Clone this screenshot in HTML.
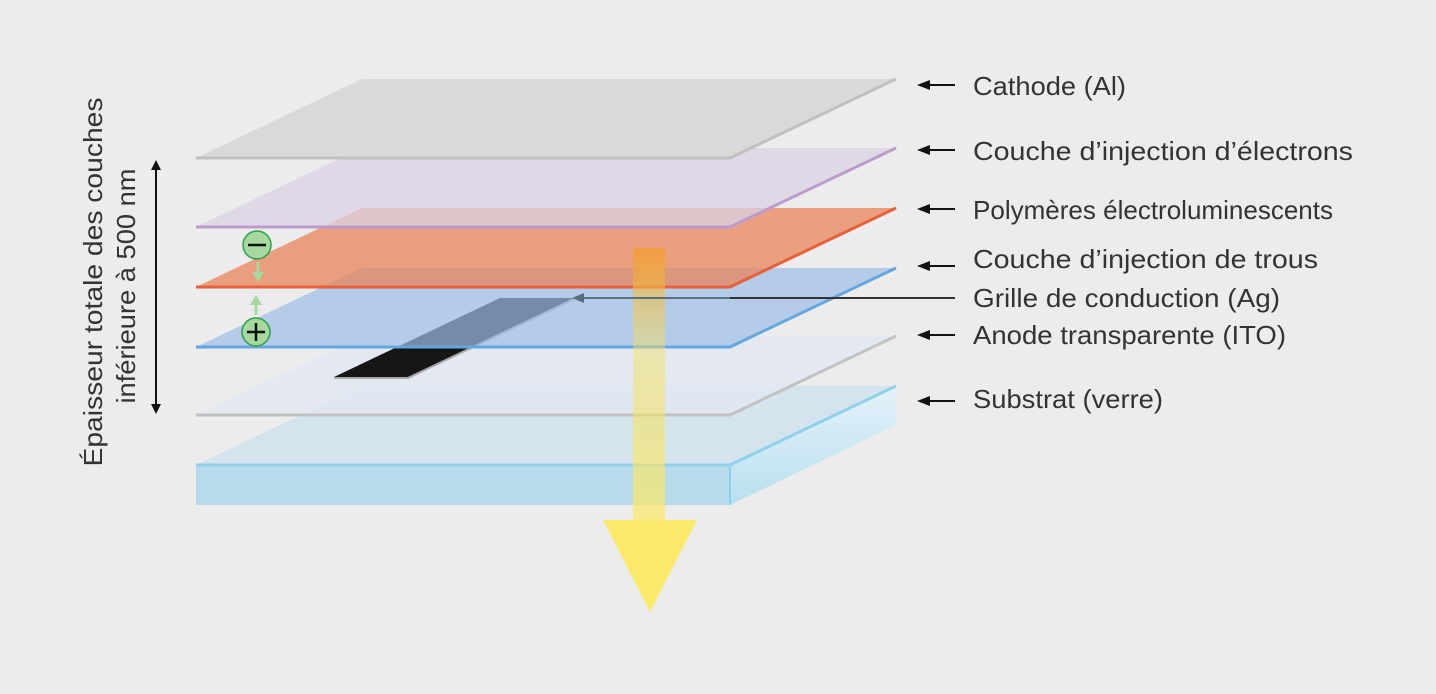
<!DOCTYPE html>
<html><head><meta charset="utf-8"><style>
html,body{margin:0;padding:0;background:#ececec;}
svg{display:block;font-family:"Liberation Sans",sans-serif;}
</style></head><body>
<svg width="1436" height="694" viewBox="0 0 1436 694" xmlns="http://www.w3.org/2000/svg">
<defs>
<linearGradient id="ya" x1="0" y1="0" x2="0" y2="1">
<stop offset="0" stop-color="#f39a2a"/><stop offset="0.35" stop-color="#f4e060" stop-opacity="0.6"/><stop offset="1" stop-color="#fbe96a"/>
</linearGradient>
<linearGradient id="side" x1="0" y1="0" x2="0" y2="1">
<stop offset="0" stop-color="#e3f1fa"/><stop offset="1" stop-color="#b9e0ef"/>
</linearGradient>
</defs>
<rect width="1436" height="694" fill="#ececec"/>

<polygon points="196,465 362,386 896,386 730,465" fill="#cfe3ee" opacity="0.85"/>
<polygon points="730,465 896,386 896,425 730,505" fill="url(#side)"/>
<rect x="196" y="465" width="534" height="40" fill="#b6dbec"/>
<line x1="196" y1="465" x2="730" y2="465" stroke="#8fd0ea" stroke-width="3"/>
<polyline points="730,465 896,386" fill="none" stroke="#8fd0ea" stroke-width="3"/>
<line x1="730" y1="465" x2="730" y2="505" stroke="#8fd0ea" stroke-width="2"/>

<polygon points="196,415 362,336 896,336 730,415" fill="#e2e9f2" opacity="0.8"/>
<polyline points="196,415 730,415 896,336" fill="none" stroke="#c2c2c2" stroke-width="3"/>

<polygon points="334,377 500,298 574,298 408,377" fill="#161616"/>
<polyline points="334,378 408,378 574,299" fill="none" stroke="#a8a8a8" stroke-width="2"/>

<polygon points="196,347 362,268 896,268 730,347" fill="#9dbfe5" opacity="0.7"/>
<polyline points="196,347 730,347 896,268" fill="none" stroke="#64a6e0" stroke-width="3"/>

<polygon points="196,287 362,208 896,208 730,287" fill="#e8865a" opacity="0.75"/>
<polyline points="196,287 730,287 896,208" fill="none" stroke="#e8603a" stroke-width="3"/>

<polygon points="196,227 362,148 896,148 730,227" fill="#dbd2e4" opacity="0.75"/>
<polyline points="196,227 730,227 896,148" fill="none" stroke="#bb9bcd" stroke-width="3"/>

<polygon points="196,158 362,79 896,79 730,158" fill="#d9d9d9"/>
<polyline points="196,158 730,158 896,79" fill="none" stroke="#c0c0c0" stroke-width="3"/>

<rect x="633" y="248" width="32" height="272" fill="url(#ya)" opacity="0.75"/>
<polygon points="603,520 697,520 650,612" fill="#fbe96a"/>

<line x1="955" y1="298" x2="582" y2="298" stroke="#333" stroke-width="2"/>
<line x1="730" y1="298" x2="582" y2="298" stroke="#5b6e80" stroke-width="2"/>
<polygon points="572,298 584,293 584,303" fill="#5b6e80"/>

<circle cx="257" cy="245" r="14" fill="#a6d8a0" stroke="#2aa24a" stroke-width="1.5"/>
<line x1="248" y1="245" x2="266" y2="245" stroke="#111" stroke-width="2.5"/>
<line x1="258" y1="262" x2="258" y2="274" stroke="#a6d8a0" stroke-width="3"/>
<polygon points="252,272 264,272 258,282" fill="#a6d8a0"/>
<circle cx="256" cy="332" r="14" fill="#a6d8a0" stroke="#2aa24a" stroke-width="1.5"/>
<line x1="247" y1="332" x2="265" y2="332" stroke="#111" stroke-width="2.5"/>
<line x1="256" y1="323" x2="256" y2="341" stroke="#111" stroke-width="2.5"/>
<line x1="256" y1="303" x2="256" y2="315" stroke="#a6d8a0" stroke-width="3"/>
<polygon points="250,305 262,305 256,295" fill="#a6d8a0"/>

<line x1="156" y1="168" x2="156" y2="406" stroke="#111" stroke-width="2"/>
<polygon points="151,170 161,170 156,160" fill="#111"/>
<polygon points="151,404 161,404 156,414" fill="#111"/>
<text transform="translate(102,282) rotate(-90)" text-anchor="middle" font-size="26" fill="#333" textLength="369" lengthAdjust="spacingAndGlyphs">Épaisseur totale des couches</text>
<text transform="translate(135,286) rotate(-90)" text-anchor="middle" font-size="26" fill="#333" textLength="235" lengthAdjust="spacingAndGlyphs">inférieure à 500 nm</text>

<g stroke="#111" stroke-width="2">
<line x1="928" y1="85" x2="955" y2="85"/>
<line x1="928" y1="150" x2="955" y2="150"/>
<line x1="928" y1="209" x2="955" y2="209"/>
<line x1="928" y1="266" x2="955" y2="266"/>
<line x1="928" y1="335" x2="955" y2="335"/>
<line x1="928" y1="401" x2="955" y2="401"/>
</g>
<g fill="#111">
<polygon points="917,85 930,80 930,90"/>
<polygon points="917,150 930,145 930,155"/>
<polygon points="917,209 930,204 930,214"/>
<polygon points="917,266 930,261 930,271"/>
<polygon points="917,335 930,330 930,340"/>
<polygon points="917,401 930,396 930,406"/>
</g>
<g font-size="26" fill="#333" lengthAdjust="spacingAndGlyphs">
<text x="973" y="95" textLength="153" lengthAdjust="spacingAndGlyphs">Cathode (Al)</text>
<text x="973" y="160" textLength="380" lengthAdjust="spacingAndGlyphs">Couche d’injection d’électrons</text>
<text x="973" y="219" textLength="360" lengthAdjust="spacingAndGlyphs">Polymères électroluminescents</text>
<text x="973" y="268" textLength="345" lengthAdjust="spacingAndGlyphs">Couche d’injection de trous</text>
<text x="973" y="307" textLength="307" lengthAdjust="spacingAndGlyphs">Grille de conduction (Ag)</text>
<text x="973" y="344" textLength="313" lengthAdjust="spacingAndGlyphs">Anode transparente (ITO)</text>
<text x="973" y="408" textLength="190" lengthAdjust="spacingAndGlyphs">Substrat (verre)</text>
</g>
</svg>
</body></html>
